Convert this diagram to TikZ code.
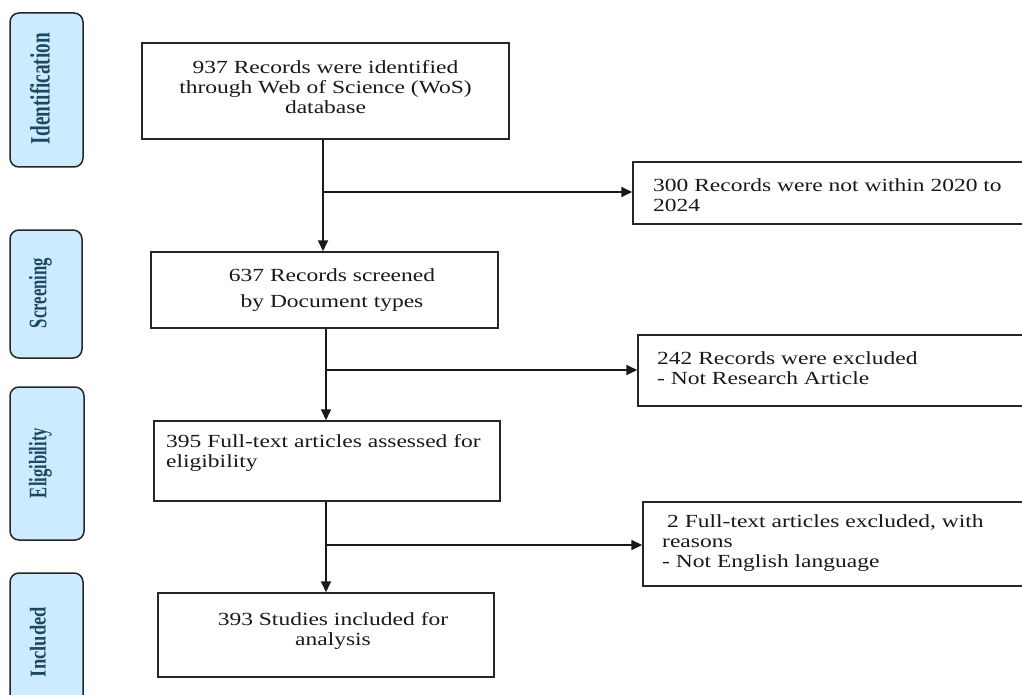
\documentclass[tikz,border=0pt]{standalone}
\usepackage{fontspec}
\setmainfont{Liberation Serif}[FakeStretch=1.27]
\newfontfamily\plainserif{Liberation Serif}
\usetikzlibrary{arrows.meta}
\definecolor{stagefill}{RGB}{204,235,254}
\definecolor{stagetext}{RGB}{28,72,98}
\begin{document}
\begin{tikzpicture}[x=1pt,y=-1pt,
  box/.style={draw=black!85, line width=1.5pt, inner sep=0pt, fill=white},
  stage/.style={draw=black!85, line width=1.5pt, rounded corners=9pt, fill=stagefill, inner sep=0pt},
  stagelabel/.style={rotate=90, inner sep=0pt, text=stagetext},
  txt/.style={inner sep=0pt, font=\fontsize{18.5}{20}\selectfont, text=black!90},
  arr/.style={line width=1.8pt, draw=black!90, -{Triangle[length=11pt,width=10pt]}}]
\useasboundingbox (0,0) rectangle (1022,695);
\clip (0,0) rectangle (1022,695);
\fill[white] (0,0) rectangle (1022,695);

% stage boxes
\node[stage, minimum width=73pt, minimum height=154pt] (s1) at (46.5,90) {};
\node[stage, minimum width=72pt, minimum height=128pt] (s2) at (46,294) {};
\node[stage, minimum width=74pt, minimum height=153pt] (s3) at (47,463.5) {};
\node[stage, minimum width=73pt, minimum height=154pt] (s4) at (46.5,650) {};
\node[stagelabel] (l1) at (40,88.5) {\resizebox*{111pt}{20pt}{\plainserif\bfseries Identification}};
\node[stagelabel] (l2) at (40.5,293) {\resizebox*{70pt}{23pt}{\plainserif\bfseries Screening}};
\node[stagelabel] (l3) at (40.5,463) {\resizebox*{70pt}{23pt}{\plainserif\bfseries Eligibility}};
\node[stagelabel] (l4) at (38,642) {\resizebox*{70pt}{16pt}{\plainserif\bfseries Included}};

% main boxes
\node[box, minimum width=367pt, minimum height=96pt] (b1) at (325.5,91) {};
\node[box, minimum width=347pt, minimum height=76pt] (b2) at (324.5,290) {};
\node[box, minimum width=346pt, minimum height=80pt] (b3) at (327,461) {};
\node[box, minimum width=336pt, minimum height=84pt] (b4) at (326,635) {};
% exclusion boxes
\node[box, minimum width=407pt, minimum height=62pt] (r1) at (836.5,193) {};
\node[box, minimum width=402pt, minimum height=71pt] (r2) at (839,370.5) {};
\node[box, minimum width=397pt, minimum height=84pt] (r3) at (841.5,544) {};

% texts
\node[txt, anchor=north, align=center] (t1) at (325.5,60.4) {937 Records were identified\\through Web of Science (WoS)\\database};
\node[txt, anchor=north, align=center, font=\fontsize{18.5}{26}\selectfont] (t2) at (332,268.4) {637 Records screened\\by Document types};
\node[txt, anchor=north west, align=left] (t3) at (166,434.4) {395 Full-text articles assessed for\\eligibility};
\node[txt, anchor=north, align=center] (t4) at (333,612.4) {393 Studies included for\\analysis};
\node[txt, anchor=north west, align=left] (tr1) at (653,178.4) {300 Records were not within 2020 to\\2024};
\node[txt, anchor=north west, align=left] (tr2) at (657,351.4) {242 Records were excluded\\- Not Research Article};
\node[txt, anchor=north west, align=left] (tr3) at (662,514.4) {\hspace*{5pt}2 Full-text articles excluded, with\\reasons\\- Not English language};

% connectors
\coordinate (xa) at (323,0);
\coordinate (xb) at (326,0);
\draw[arr] (b1.south -| xa) -- (b2.north -| xa);
\draw[arr] (b2.south -| xb) -- (b3.north -| xb);
\draw[arr] (b3.south -| xb) -- (b4.north -| xb);
\coordinate (j1) at (323,192);
\coordinate (j2) at (326,370);
\coordinate (j3) at (326,545);
\draw[arr] (j1) -- (j1 -| r1.west);
\draw[arr] (j2) -- (j2 -| r2.west);
\draw[arr] (j3) -- (j3 -| r3.west);
\end{tikzpicture}
\end{document}
